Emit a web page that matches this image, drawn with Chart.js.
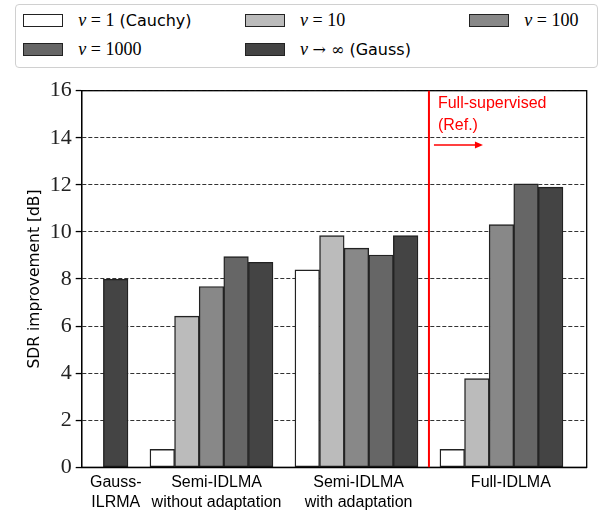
<!DOCTYPE html>
<html>
<head>
<meta charset="utf-8">
<script src="https://cdn.jsdelivr.net/npm/chart.js@4.4.1/dist/chart.umd.min.js"></script>
<style>
  body { margin: 0; background: #fff; }
  #wrap { position: relative; width: 605px; height: 510px; }
  #legend { position: absolute; left: 15px; top: 4px; width: 583px; height: 64px; box-sizing: border-box;
            border: 1px solid #d0d0d0; border-radius: 4px; background: #fff; }
  .item { position: absolute; height: 20px; display: flex; align-items: center; white-space: nowrap; }
  .swatch { width: 40px; height: 13px; box-sizing: border-box; border: 1.3px solid #222; margin-right: 15px; }
  .math { font-family: 'Liberation Serif', 'DejaVu Serif', serif; font-size: 18px; }
  .sym { font-family: 'DejaVu Serif', serif; font-size: 16px; }
  .txt { font-family: 'DejaVu Sans', sans-serif; font-size: 16px; }
</style>
</head>
<body>
<div id="wrap">
  <canvas id="sdrChart" width="605" height="510"></canvas>
  <div id="legend"></div>
</div>
<script>
// groups along x (index 0..3), where the tick labels sit
const groupLabels = [['Gauss-', 'ILRMA'], ['Semi-IDLMA', 'without adaptation'], ['Semi-IDLMA', 'with adaptation'], ['Full-IDLMA']];
const groupPos = [0, 1, 2, 3];
const labelPos = [0.34, 1.035, 2.015, 3.065];
const refSplit = 2.5;

const seriesNames = ['ν = 1 (Cauchy)', 'ν = 10', 'ν = 100', 'ν = 1000', 'ν → ∞ (Gauss)'];
const cauchy = [null, 0.76, 8.39, 0.76];
const nu10 = [null, 6.42, 9.84, 3.77];
const nu100 = [null, 7.68, 9.31, 10.31];
const nu1000 = [null, 8.95, 9.02, 12.04];
const gauss = [7.99, 8.71, 9.84, 11.9];
const barColors = ['#ffffff', '#bbbbbb', '#888888', '#666666', '#444444'];

const series = [cauchy, nu10, nu100, nu1000, gauss];

const datasets = series.map((vals, i) => ({
    label: seriesNames[i],
    data: vals.map((v, j) => ({ x: groupPos[j], y: v })).filter(p => p.y !== null),
    backgroundColor: barColors[i],
    borderColor: '#222',
    borderWidth: 1.4,
    borderSkipped: false,
    barThickness: 24.6
}));

// red "Full-supervised" marker + top/right frame
const refLine = {
    id: 'refLine',
    afterDatasetsDraw(chart) {
        const { ctx, chartArea: a, scales: { x } } = chart;
        const px = x.getPixelForValue(refSplit);
        ctx.save();
        ctx.strokeStyle = '#000';
        ctx.lineWidth = 1.3;
        ctx.strokeRect(a.left, a.top, a.right - a.left, a.bottom - a.top);

        ctx.strokeStyle = '#ff0000';
        ctx.fillStyle = '#ff0000';
        ctx.lineWidth = 2;
        ctx.beginPath();
        ctx.moveTo(px, a.top);
        ctx.lineTo(px, a.bottom);
        ctx.stroke();

        ctx.font = '16px "Liberation Sans"';
        ctx.textBaseline = 'alphabetic';
        ctx.fillText('Full-supervised', px + 9, a.top + 17);
        ctx.fillText('(Ref.)', px + 9, a.top + 39.3);

        const ay = a.top + 54.3;
        ctx.lineWidth = 1.5;
        ctx.beginPath();
        ctx.moveTo(px + 5, ay);
        ctx.lineTo(px + 48, ay);
        ctx.stroke();
        ctx.beginPath();
        ctx.moveTo(px + 54, ay);
        ctx.lineTo(px + 46, ay - 3.5);
        ctx.lineTo(px + 46, ay + 3.5);
        ctx.closePath();
        ctx.fill();
        ctx.restore();
    }
};

const chart = new Chart(document.getElementById('sdrChart'), {
    type: 'bar',
    data: { datasets: datasets },
    options: {
        responsive: false,
        animation: false,
        layout: { padding: { top: 90.7, right: 18.3, left: 0, bottom: 0 } },
        plugins: { legend: { display: false }, tooltip: { enabled: false } },
        scales: {
            x: {
                type: 'linear',
                min: 0.105,
                max: 3.588,
                offset: false,
                grid: { display: false, drawTicks: false },
                border: { display: true, color: '#000', width: 1.3 },
                afterBuildTicks: s => { s.ticks = labelPos.map(v => ({ value: v })); },
                afterFit: s => { s.height = 42.7; },
                ticks: {
                    autoSkip: false,
                    maxRotation: 0,
                    padding: 5,
                    color: '#000',
                    font: { family: 'Liberation Sans', size: 16, lineHeight: 1.25 },
                    callback: (v, i) => groupLabels[i]
                }
            },
            y: {
                min: 0,
                max: 16,
                afterFit: s => { s.width = 81.7; },
                ticks: { stepSize: 2, padding: 4, color: '#222', font: { family: 'Liberation Serif', size: 22 } },
                grid: { color: '#333', lineWidth: 1.1, tickLength: 6, tickColor: '#000', tickWidth: 1.3, tickBorderDash: [] },
                border: { display: true, color: '#000', width: 1.3, dash: [4, 2] },
                title: {
                    display: true,
                    text: 'SDR improvement [dB]',
                    color: '#000',
                    font: { family: 'DejaVu Sans', size: 15.5 },
                    padding: { top: 25.7, bottom: 0 }
                }
            }
        }
    },
    plugins: [refLine]
});

// legend laid out in three columns like the original
const legendCols = [7.3, 229, 453.3];
const legendRows = [5.6, 34.6];
const legend = document.getElementById('legend');
chart.data.datasets.forEach((ds, i) => {
    const m = ds.label.match(/^(.*?)(\s\(.*\))?$/);
    const math = m[1].replace('ν', '<i>ν</i>').replace('→ ∞', '<span class="sym">→ ∞</span>');
    const txt = m[2] ? '&nbsp;' + m[2].trim() : '';
    const item = document.createElement('div');
    item.className = 'item';
    item.style.left = legendCols[i % 3] + 'px';
    item.style.top = legendRows[Math.floor(i / 3)] + 'px';
    item.innerHTML = `<span class="swatch" style="background:${ds.backgroundColor}"></span>` +
        `<span class="math">${math}</span><span class="txt">${txt}</span>`;
    legend.appendChild(item);
});
</script>
</body>
</html>
